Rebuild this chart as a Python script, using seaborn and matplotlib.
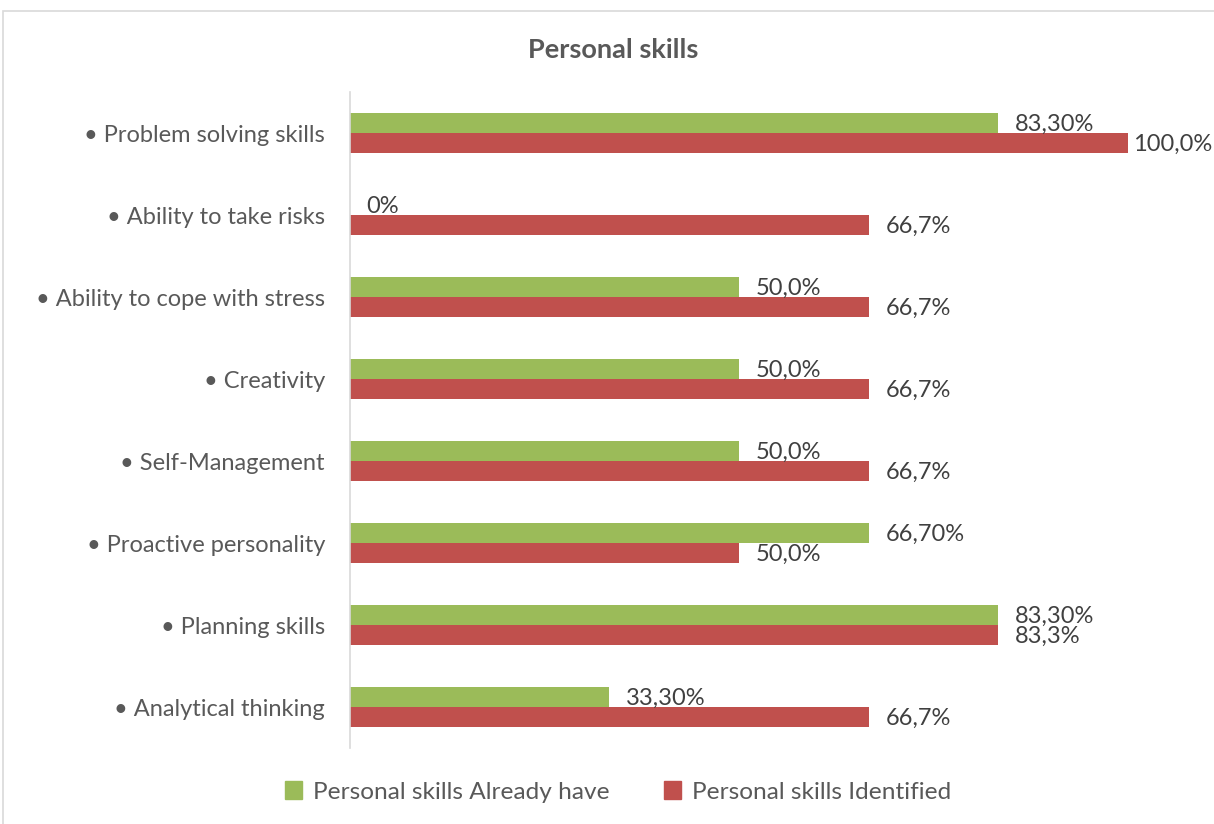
import matplotlib
matplotlib.use("Agg")
import matplotlib.pyplot as plt
from matplotlib.patches import Rectangle
import seaborn as sns
import pandas as pd

skills = [
    "• Problem solving skills",
    "• Ability to take risks",
    "• Ability to cope with stress",
    "• Creativity",
    "• Self-Management",
    "• Proactive personality",
    "• Planning skills",
    "• Analytical thinking",
]
already_have = [83.3, 0.0, 50.0, 50.0, 50.0, 66.7, 83.3, 33.3]
identified = [100.0, 66.7, 66.7, 66.7, 66.7, 50.0, 83.3, 66.7]
already_labels = ["83,30%", "0%", "50,0%", "50,0%", "50,0%", "66,70%", "83,30%", "33,30%"]
identified_labels = ["100,0%", "66,7%", "66,7%", "66,7%", "66,7%", "50,0%", "83,3%", "66,7%"]
series_names = ["Personal skills Already have", "Personal skills Identified"]
colors = ["#9BBB59", "#C0504D"]

FONT = "Lato"

df = pd.DataFrame({
    "skill": skills * 2,
    "value": already_have + identified,
    "series": [series_names[0]] * len(skills) + [series_names[1]] * len(skills),
})

W, H = 1214, 824
fig = plt.figure(figsize=(W / 100, H / 100), dpi=100)
ax = fig.add_axes([350 / W, (H - 748) / H, (1128 - 350) / W, (748 - 92) / H])

sns.barplot(data=df, x="value", y="skill", hue="series", palette=colors,
            orient="h", width=0.488, gap=0, dodge=True, saturation=1,
            edgecolor="none", linewidth=0, ax=ax, legend=False)

ax.set_xlim(0, 100)
ax.set_ylim(len(skills) - 0.5, -0.5)
ax.set_xlabel("")
ax.set_ylabel("")
ax.set_xticks([])
ax.tick_params(axis="y", length=0, pad=18, labelsize=17, labelcolor="#595959")
for lab in ax.get_yticklabels():
    lab.set_fontfamily(FONT)
for s in ["top", "right", "bottom"]:
    ax.spines[s].set_visible(False)
ax.spines["left"].set_color("#D9D9D9")
ax.spines["left"].set_linewidth(1.2)

# value labels beside each bar
for i in range(len(skills)):
    for vals, labs, dy in ((already_have, already_labels, -0.1),
                           (identified, identified_labels, 0.14)):
        v = vals[i]
        off = 12 if v < 100 else 3.5
        ax.annotate(labs[i], (v, i + dy), xytext=(off, 0), textcoords="offset points",
                    va="center", ha="left", fontsize=17, color="#404040",
                    family=FONT, annotation_clip=False)

fig.text(613 / W, 1 - 50 / H, "Personal skills", ha="center", va="center",
         fontsize=19.5, fontweight="bold", color="#595959", family=FONT)

# legend
handles = [Rectangle((0, 0), 1, 1, color=c) for c in colors]
fig.legend(handles, series_names, loc="center", bbox_to_anchor=(618 / W, 1 - 792 / H),
           ncol=2, frameon=False, handlelength=0.7, handleheight=0.7,
           handletextpad=0.45, columnspacing=2.2,
           prop={"family": FONT, "size": 17.6}, labelcolor="#595959")

fig.patches.append(Rectangle((3 / W, -0.05), 1.2, 1 - 11 / H + 0.05, transform=fig.transFigure,
                             fill=False, edgecolor="#D9D9D9", linewidth=1.2))

fig.savefig("out.png", dpi=100)
